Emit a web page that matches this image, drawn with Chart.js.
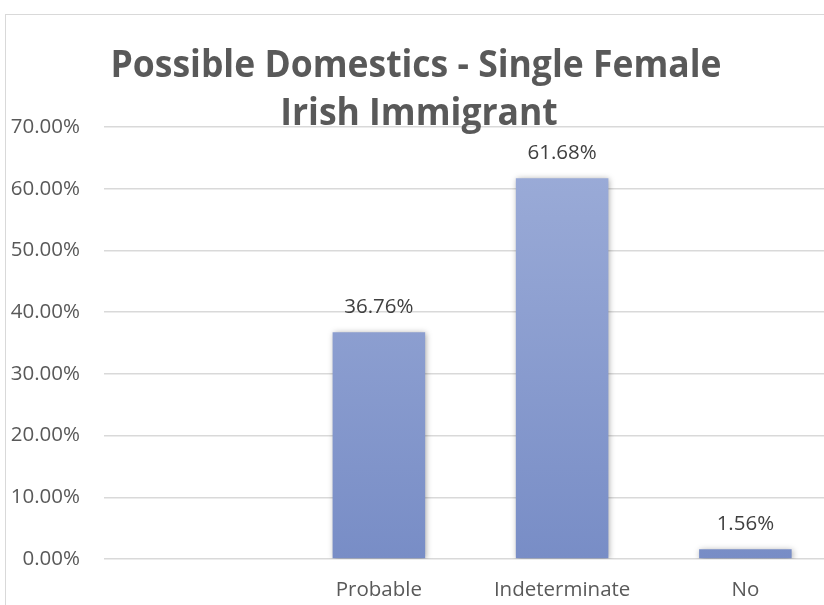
<!DOCTYPE html>
<html lang="en">
  <head>
    <meta charset="UTF-8" />
    <title>Possible Domestics</title>
    <script src="https://cdn.jsdelivr.net/npm/chart.js@4.4.0/dist/chart.umd.min.js"></script>
    <style>
      html, body { margin: 0; padding: 0; background: #fff; overflow: hidden; }
      #frame {
        position: absolute; left: 5px; top: 14px; width: 900px; height: 700px;
        border-left: 1px solid #d9d9d9; border-top: 1px solid #d9d9d9;
      }
      #wrap { position: absolute; left: 0; top: 0; width: 860px; height: 605px; }
    </style>
  </head>
  <body>
    <div id="frame"></div>
    <div id="wrap"><canvas id="chart"></canvas></div>
    <script>
      const categories = ['', 'Probable', 'Indeterminate', 'No']
      const shares = [null, 36.76, 61.68, 1.56]
      const yTicks = [0, 10, 20, 30, 40, 50, 60, 70]
      const titleLines = ['Possible Domestics - Single Female', 'Irish Immigrant']

      const ctx = document.getElementById('chart')

      function barFill(context) {
        const area = context.chart.chartArea
        if (!area) return '#8da0d3'
        const g = context.chart.ctx.createLinearGradient(0, area.top, 0, area.bottom)
        g.addColorStop(0, '#9eaed9')
        g.addColorStop(1, '#788dc6')
        return g
      }

      // value labels above each bar
      const valueLabels = {
        id: 'valueLabels',
        afterDatasetsDraw(chart) {
          const c = chart.ctx
          const meta = chart.getDatasetMeta(0)
          c.save()
          c.font = '20.5px "Open Sans"'
          c.fillStyle = '#404040'
          c.textAlign = 'center'
          c.textBaseline = 'middle'
          meta.data.forEach((bar, i) => {
            if (shares[i] == null) return
            c.fillText(shares[i].toFixed(2) + '%', bar.x, bar.y - 25)
          })
          c.restore()
        },
      }

      // condensed bold title, squeezed horizontally like the original
      const squeezedTitle = {
        id: 'squeezedTitle',
        afterDraw(chart) {
          const c = chart.ctx
          c.save()
          c.font = 'bold 38px "Open Sans"'
          c.fillStyle = '#595959'
          c.textAlign = 'center'
          c.textBaseline = 'alphabetic'
          const w = c.measureText(titleLines[0]).width
          const sx = 611 / w
          c.translate(416, 0)
          c.scale(sx, 1)
          c.fillText(titleLines[0], 0, 77)
          c.fillText(titleLines[1], 3 / sx, 125)
          c.restore()
        },
      }

      // soft shadow behind bars
      const barShadow = {
        id: 'barShadow',
        beforeDatasetDraw(chart) {
          chart.ctx.save()
          chart.ctx.shadowColor = 'rgba(0,0,0,0.35)'
          chart.ctx.shadowBlur = 6
          chart.ctx.shadowOffsetX = 1
          chart.ctx.shadowOffsetY = 1
        },
        afterDatasetDraw(chart) {
          chart.ctx.restore()
        },
      }

      const config = {
        type: 'bar',
        data: {
          labels: categories,
          datasets: [
            {
              data: shares,
              backgroundColor: barFill,
              borderWidth: 0,
              categoryPercentage: 1,
              barPercentage: 0.505,
            },
          ],
        },
        options: {
          responsive: true,
          maintainAspectRatio: false,
          animation: false,
          layout: { padding: { left: 0, right: 23, top: 127, bottom: 0 } },
          scales: {
            x: {
              grid: { display: false, drawTicks: false },
              border: { display: false },
              ticks: {
                color: '#595959',
                font: { family: 'Open Sans', size: 20.5 },
                padding: 19,
              },
              afterFit: (scale) => { scale.height = 46 },
            },
            y: {
              min: 0,
              max: 70,
              afterBuildTicks: (scale) => {
                scale.ticks = yTicks.map((v) => ({ value: v }))
              },
              grid: { color: '#d9d9d9', lineWidth: 1.5, drawTicks: false },
              border: { display: false },
              ticks: {
                color: '#595959',
                font: { family: 'Open Sans', size: 20.5 },
                padding: 24,
                callback: (v) => v.toFixed(2) + '%',
              },
              afterFit: (scale) => { scale.width = 104 },
            },
          },
          plugins: {
            legend: { display: false },
            tooltip: { enabled: false },
            title: { display: false },
          },
        },
        plugins: [barShadow, valueLabels, squeezedTitle],
      }
      var chart = new Chart(ctx, config)
    </script>
  </body>
</html>
